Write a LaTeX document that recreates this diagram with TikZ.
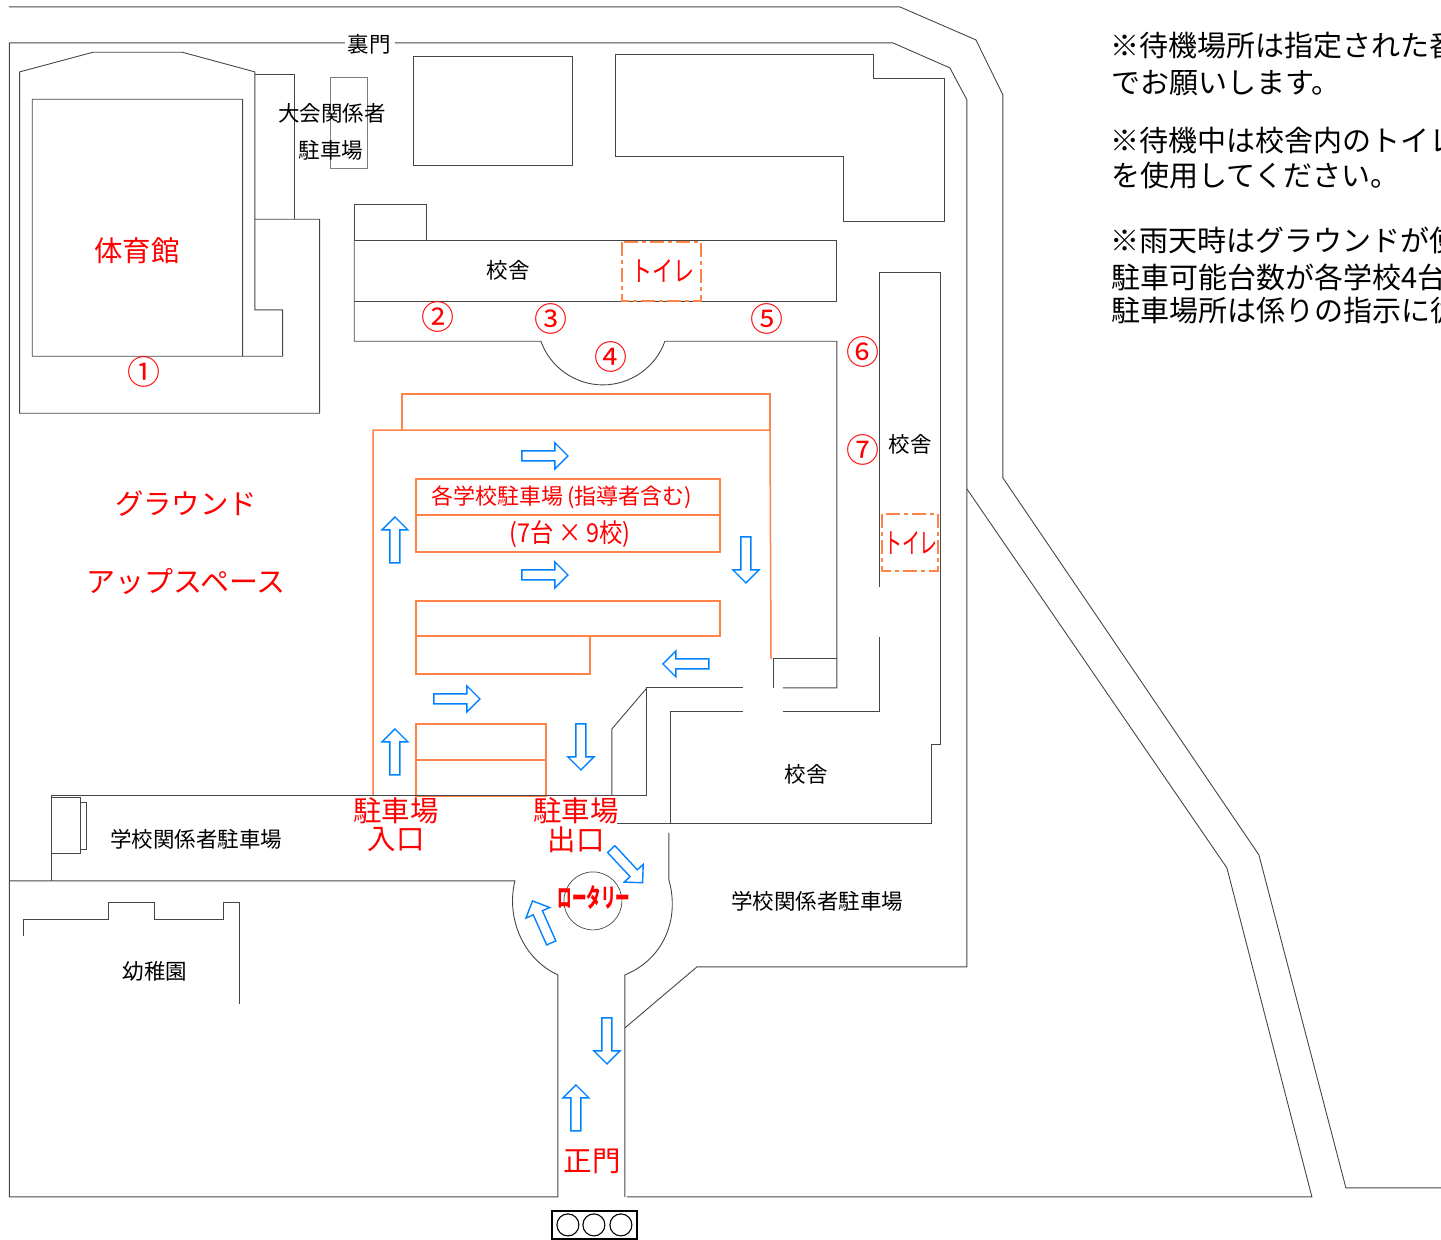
\documentclass[tikz,border=0pt]{standalone}
\usepackage{fontspec}
\setmainfont{Noto Sans CJK JP}
\definecolor{orng}{RGB}{255,130,70}
\definecolor{blu}{RGB}{0,130,255}
\definecolor{lin}{RGB}{70,70,70}
\tikzset{
  wall/.style={draw=lin,line width=0.9pt,line join=miter},
  lot/.style={draw=orng,line width=1.5pt},
  wc/.style={draw=orng,line width=1.5pt,dash pattern=on 14pt off 4pt on 4pt off 4pt},
  blab/.style={text=black,font=\fontsize{21.5}{24}\selectfont,inner sep=0pt},
  rlab/.style={text=red,font=\fontsize{28.4}{31}\selectfont,inner sep=0pt},
  num/.style={text=red,font=\fontsize{33}{35}\selectfont,inner sep=0pt},
  note/.style={text=black,anchor=west,font=\fontsize{29}{31}\selectfont,inner sep=0pt},
  tight/.style={transform shape,xscale=#1},
  blockarrow/.style={draw=blu,line width=1.4pt,line join=miter,fill=white}
}
\newcommand{\barrow}[3]{\begin{scope}[shift={(#1,#2)},rotate=#3]
  \draw[blockarrow] (-23,-5) -- (10,-5) -- (10,-13) -- (23,0) -- (10,13) -- (10,5) -- (-23,5) -- cycle;
\end{scope}}
\begin{document}
\begin{tikzpicture}[x=1pt,y=-1pt]
\useasboundingbox (0,0) rectangle (1441,1240);
\clip (0,0) rectangle (1441,1240);
% parking lots
\draw[lot] (373,796) -- (373,430) -- (770,430) -- (771,659);
\draw[lot] (402,430) -- (402,394) -- (770,394) -- (770,430);
\draw[lot] (416,479) rectangle (720,552);
\draw[lot] (416,515) -- (720,515);
\draw[lot] (416,601) rectangle (720,636);
\draw[lot] (416,636) -- (416,674) -- (590,674) -- (590,636);
\draw[lot] (416,724) rectangle (546,796);
\draw[lot] (416,760) -- (546,760);
\begin{scope}[shift={(-0.1,-0.1)}]
% outer road
\draw[wall] (9,7) -- (900,7) -- (976,40) -- (1003,95) -- (1003,478) -- (1259,855) -- (1346,1188) -- (1442,1188);
\draw[wall] (967,489) -- (1227,868) -- (1312,1197) -- (627,1197);
% site boundary
\draw[wall] (345,43) -- (9.5,43) -- (9.5,1197) -- (558,1197) -- (558,975)
  .. controls (523,959) and (506,918) .. (515,881) -- (9.5,881);
\draw[wall] (395,43) -- (893,43) -- (950,68) -- (967,100) -- (967,967) -- (697,967) -- (625,1028);
\draw[wall] (669,833) -- (669,880) .. controls (680,919) and (664,959) .. (625,975) -- (625,1197);
% gymnasium
\draw[wall] (255,219.3) -- (255,72) -- (182.3,52.3) -- (93.3,52.3) -- (19.7,72) -- (19.7,413.3) -- (319.7,413.3) -- (319.7,219.3) -- (255,219.3) -- (255,310) -- (282.7,310) -- (282.7,356.3) -- (32.3,356.3) -- (32.3,99.3) -- (242.7,99.3) -- (242.7,356.3);
\draw[wall] (255,74.3) -- (294.7,74.3) -- (294.7,219.3);
\draw[wall,draw=lin!70] (330.7,77.7) rectangle (367.3,168.3);
% north buildings
\draw[wall] (413.3,56.3) rectangle (572.7,165.3);
\draw[wall] (615.7,55) -- (874,55) -- (874,79) -- (945,79) -- (945,222) -- (844,222) -- (844,157) -- (615.7,157) -- cycle;
% main school block
\draw[wall] (354.3,204.3) rectangle (426.7,240.7);
\draw[wall] (354.3,240.7) -- (837,240.7) -- (837,301.3) -- (354.3,301.3);
\draw[wall] (354.3,240.7) -- (354.3,341.3) -- (541,341.3)
  .. controls (550,367) and (575,385) .. (603,385)
  .. controls (631,385) and (656,367) .. (665,341.3) -- (837,341.3) -- (837,688) -- (783,688);
\draw[wall] (743,688) -- (647,688) -- (647,796) -- (52,796) -- (52,881);
\draw[wall] (612,796) -- (612,729) -- (647,688);
\draw[wall] (774,688) -- (774,659) -- (837,659);
% east block
\draw[wall] (879.4,587) -- (879.4,273) -- (940.4,273) -- (940.4,745) -- (931.4,745) -- (931.4,824) -- (617,824);
\draw[wall] (879.4,637) -- (879.4,712) -- (783,712);
\draw[wall] (743,712) -- (670.4,712) -- (670.4,824);
% small shed
\draw[wall] (52,798) rectangle (81,854);
\draw[wall] (81,803) -- (86.5,803) -- (86.5,850) -- (81,850);
% kindergarten
\draw[wall] (23.5,936) -- (23.5,920) -- (109,920) -- (109,903) -- (155,903) -- (155,920) -- (224,920) -- (224,903) -- (240,903) -- (240,1004);
% rotary and gate
\draw[wall,line width=0.7pt] (593,901) circle[radius=29];
\draw[draw=black,line width=1.2pt] (552,1211) rectangle (637,1239);
\foreach \cx in {568,594,621} \draw[draw=black,line width=1.1pt] (\cx,1225) circle[radius=11];
\draw[wc] (622,242) rectangle (701,301);
\draw[wc] (882,514) rectangle (938,571);
% arrows
\barrow{545}{456}{0}
\barrow{545}{575}{0}
\barrow{457}{699}{0}
\barrow{686}{664}{180}
\barrow{395}{540}{90}
\barrow{395}{752}{90}
\barrow{746}{560}{-90}
\barrow{581}{747}{-90}
\barrow{576}{1108}{90}
\barrow{607}{1041}{-90}
\barrow{627}{866}{-47}
\barrow{542}{922}{114}
\end{scope}
% labels
\node[blab] (uramon) at (369,44) {裏門};
\node[blab] (taikai) at (332,113) {大会関係者};
\node[blab] (taikaip) at (331,150) {駐車場};
\node[blab] (kosha1) at (508,270) {校舎};
\node[blab] (kosha2) at (910,444) {校舎};
\node[blab] (kosha3) at (806,774) {校舎};
\node[blab] (gakko1) at (196,839) {学校関係者駐車場};
\node[blab] (gakko2) at (817,901) {学校関係者駐車場};
\node[blab] (youchi) at (155,971) {幼稚園};
\node[rlab] (gym) at (137,251) {体育館};
\node[rlab] (ground) at (186,504) {グラウンド};
\node[rlab,font=\fontsize{29}{31}\selectfont] (apspace) at (186,582) {アップスペース};
\node[rlab] (inp) at (396,811) {駐車場};
\node[rlab] (inn) at (396,840) {入口};
\node[rlab] (outp) at (576,811) {駐車場};
\node[rlab] (outn) at (576,840) {出口};
\node[rlab] (seimon) at (592,1161) {正門};
\node[text=red,inner sep=0pt,font=\fontsize{22}{24}\selectfont] (lot1) at (562,497) {各学校駐車場\hspace{4pt}(指導者含む)};
\node[text=red,inner sep=0pt,font=\fontsize{26}{28}\selectfont,tight=0.9] (lot2) at (570,534) {(7台\hspace{5pt}×\hspace{5pt}9校)};
\node[text=red,inner sep=0pt,font=\fontsize{28}{30}\selectfont,tight=0.75] (wc1) at (663,271) {トイレ};
\node[text=red,inner sep=0pt,font=\fontsize{28}{30}\selectfont,tight=0.64] (wc2) at (911,543) {トイレ};
\node[text=red,inner sep=0pt,font=\bfseries\fontsize{26}{28}\selectfont,tight=0.56] (rotary) at (594,897) {ロータリー};
\node[num] (n1) at (144,372) {①};
\node[num] (n2) at (438,317) {②};
\node[num] (n3) at (551,319) {③};
\node[num] (n4) at (611,357) {④};
\node[num] (n5) at (767,319) {⑤};
\node[num] (n6) at (863,352) {⑥};
\node[num] (n7) at (863,450) {⑦};
% notes
\node[note] (t1) at (1110,46) {※待機場所は指定された番};
\node[note] (t2) at (1111,83) {でお願いします。};
\node[note] (t3) at (1110,141) {※待機中は校舎内のトイレ};
\node[note] (t4) at (1111,176) {を使用してください。};
\node[note] (t5) at (1110,240) {※雨天時はグラウンドが使};
\node[note] (t6) at (1111,277) {駐車可能台数が各学校4台};
\node[note] (t7) at (1111,310) {駐車場所は係りの指示に従};
\end{tikzpicture}
\end{document}
